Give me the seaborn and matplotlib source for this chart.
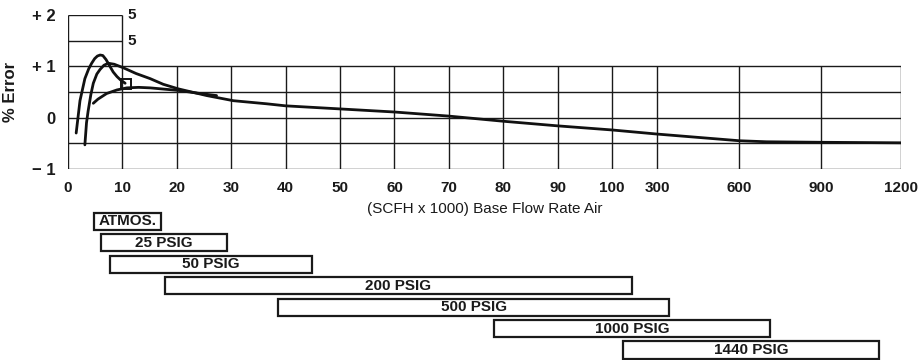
import numpy as np
import pandas as pd
import seaborn as sns
import matplotlib.pyplot as plt

# % error curves (x in SCFH x 1000)
curve_a_x = [1.5, 2.2, 3.1, 3.8, 4.35, 4.9, 5.4, 5.9, 6.4, 7.0, 7.7, 8.3, 9.0, 9.6, 10.5]
curve_a_y = [-0.30, 0.33, 0.76, 0.95, 1.06, 1.15, 1.20, 1.22, 1.21, 1.13, 1.00, 0.89, 0.80, 0.74, 0.67]

curve_b_x = [3.1, 3.4, 3.7, 4.2, 4.65, 5.3, 5.9, 6.6, 7.4, 8.5, 10.2, 12.5, 15.1, 17.5,
             20.3, 25.5, 30.4, 36.5, 40, 50, 60, 70, 80, 90, 100, 300, 600, 700, 900, 1200]
curve_b_y = [-0.53, -0.10, 0.13, 0.45, 0.67, 0.85, 0.94, 1.02, 1.06, 1.04, 0.97, 0.86, 0.76, 0.65,
             0.56, 0.43, 0.33, 0.27, 0.23, 0.17, 0.11, 0.03, -0.07, -0.16, -0.24, -0.32, -0.45, -0.47, -0.48, -0.49]

curve_c_x = [4.65, 5.5, 7.1, 9.0, 10.8, 13.0, 15.1, 20.3, 24.3, 27.3]
curve_c_y = [0.28, 0.36, 0.47, 0.54, 0.58, 0.59, 0.58, 0.53, 0.47, 0.43]

marker_x = [10.6]
marker_y = [0.66]

x_ticks = [0, 10, 20, 30, 40, 50, 60, 70, 80, 90, 100, 300, 600, 900, 1200]
y_ticks = [-1, 0, 1, 2]
y_labels = ['\u2212 1', '0', '+ 1', '+ 2']

# operating ranges per line pressure
range_labels = ['ATMOS.', '25 PSIG', '50 PSIG', '200 PSIG', '500 PSIG', '1000 PSIG', '1440 PSIG']
range_start = [4.8, 6.1, 7.7, 17.8, 38.6, 78.3, 148]
range_end = [17.1, 29.2, 44.9, 189, 344, 712, 1118]

# broken axis: 0-100 linear, then compressed 100..1200
knots = [0, 100, 300, 600, 900, 1200]
knot_pos = [0, 100, 108.3, 123.4, 138.4, 153.1]

def fwd(v):
    return np.interp(v, knots, knot_pos)

def inv(v):
    return np.interp(v, knot_pos, knots)

sns.set_style('white')
plt.rcParams['font.family'] = ['Liberation Sans', 'DejaVu Sans']
ink = '#1a1a1a'

fig = plt.figure(figsize=(9.19, 3.6), dpi=100)
ax = fig.add_axes([0.074, 0.5306, 0.9064, 0.4278])
ax.set_xscale('function', functions=(fwd, inv))
ax.set_xlim(0, 1200)
ax.set_ylim(-1, 2)

# grid drawn by hand: only the small box above +1 goes to +2
ax.hlines([-1, -0.5, 0, 0.5, 1], 0, 1200, color=ink, lw=1.0, zorder=1)
ax.hlines([1.5, 2], 0, 10, color=ink, lw=1.0, zorder=1)
ax.vlines(x_ticks, -1, 1, color=ink, lw=1.0, zorder=1)
ax.vlines([0, 10], 1, 2, color=ink, lw=1.0, zorder=1)
for yv in [2, 1.5]:
    ax.text(11, yv, '5', ha='left', va='center', fontsize=11, fontweight='bold', color=ink)

for cx, cy in [(curve_a_x, curve_a_y), (curve_b_x, curve_b_y), (curve_c_x, curve_c_y)]:
    df = pd.DataFrame({'x': cx, 'y': cy})
    sns.lineplot(data=df, x='x', y='y', ax=ax, color='#111111', lw=2.0, sort=False,
                 estimator=None, zorder=3)
ax.plot(marker_x, marker_y, marker='s', ms=7.5, mfc='none', mec='#111111', mew=1.4, ls='none', zorder=4)

for s in ax.spines.values():
    s.set_visible(False)
ax.set_xticks(x_ticks)
ax.set_xticklabels([str(t) for t in x_ticks], fontsize=11, fontweight='bold', color=ink)
ax.set_yticks(y_ticks)
ax.set_yticklabels(y_labels, fontsize=12, fontweight='bold', color=ink)
ax.tick_params(length=0, pad=9)
ax.tick_params(axis='y', pad=9)
ax.set_xlabel('(SCFH x 1000) Base Flow Rate Air', fontsize=11, color=ink, labelpad=5)
ax.set_ylabel('% Error', fontsize=12, fontweight='bold', color=ink)
ax.yaxis.set_label_coords(-0.060, 0.5)

# range bars below the chart, same x scale
bx = fig.add_axes([0.074, -0.002, 0.9064, 0.417], sharex=ax)
rows = np.arange(len(range_labels))
widths = [e - s for s, e in zip(range_start, range_end)]
bx.barh(rows, widths, left=range_start, height=0.8, color='white', edgecolor=ink, lw=1.6)
for r, lab, s, e in zip(rows, range_labels, range_start, range_end):
    mid = inv((fwd(s) + fwd(e)) / 2)
    bx.text(mid, r, lab, ha='center', va='center', fontsize=11, fontweight='bold', color=ink)
bx.set_ylim(len(range_labels) - 0.5, -0.5)
bx.axis('off')

fig.savefig('out.png', dpi=100)
